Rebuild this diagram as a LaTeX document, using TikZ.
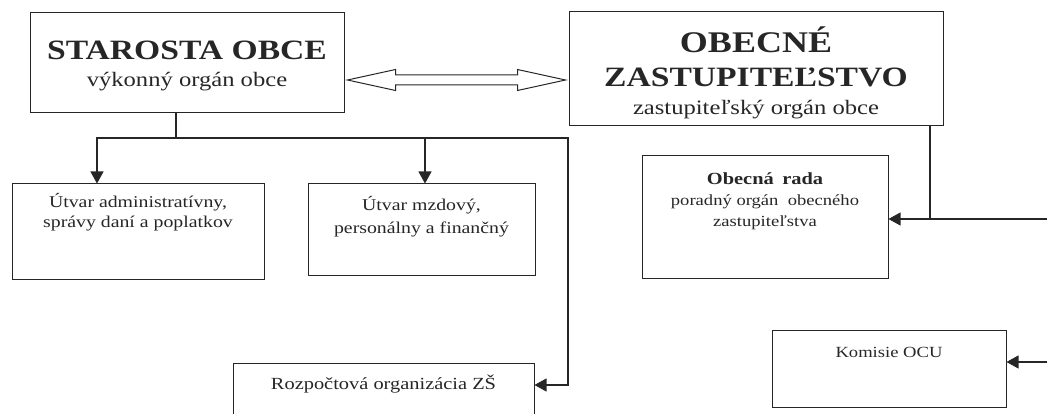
\documentclass[tikz,border=0pt]{standalone}
\usepackage{fontspec}
\setmainfont{Liberation Serif}[FakeStretch=1.2]
\usetikzlibrary{arrows.meta,calc}

\tikzset{
  unit/.style={draw=black!85, line width=1pt, inner sep=0pt},
  caption/.style={anchor=north, align=center, inner sep=0pt, text=black!85},
  link/.style={draw=black!85, line width=1.1pt},
  arr/.style={link, -{Triangle[length=12pt,width=13pt]}},
}

\begin{document}
\begin{tikzpicture}[x=1pt,y=-1pt]
  \useasboundingbox (0,0) rectangle (1047,414);
  \clip (0,0) rectangle (1047,414);

  % boxes
  \node[unit, minimum width=314pt, minimum height=100pt] (starosta) at (187,63) {};
  \node[unit, minimum width=374pt, minimum height=114pt] (obecne) at (756,69) {};
  \node[unit, minimum width=252pt, minimum height=95pt] (admin) at (138,231.5) {};
  \node[unit, minimum width=227pt, minimum height=91pt] (mzdovy) at (421.5,229.5) {};
  \node[unit, minimum width=301pt, minimum height=70pt] (rozpocet) at (383.5,398) {};
  \node[unit, minimum width=246pt, minimum height=122pt] (rada) at (765,217) {};
  \node[unit, minimum width=234pt, minimum height=77pt] (komisie) at (889,368.5) {};

  % texts
  \node[caption, font=\fontsize{20.5}{27}\selectfont] at ([yshift=-28.5pt]starosta.north)
    {{\fontsize{28}{27}\selectfont\bfseries STAROSTA OBCE}\\výkonný orgán obce};
  \node[caption, font=\fontsize{20.5}{34}\selectfont] at ([yshift=-15pt]obecne.north)
    {{\fontsize{30}{34}\selectfont\bfseries OBECNÉ}\\{\fontsize{28}{34}\selectfont\bfseries ZASTUPITEĽSTVO}\\[-6pt]zastupiteľský orgán obce};
  \node[caption, font=\fontsize{16.5}{20}\selectfont] at ([yshift=-10pt]admin.north)
    {Útvar administratívny,\\správy daní a poplatkov};
  \node[caption, font=\fontsize{16.5}{23}\selectfont] at ([yshift=-13pt]mzdovy.north)
    {Útvar mzdový,\\personálny a finančný};
  \node[caption, font=\fontsize{17}{20}\selectfont] at ([yshift=-12.5pt]rozpocet.north)
    {Rozpočtová organizácia ZŠ};
  \node[caption, font=\fontsize{15.5}{21}\selectfont] at ([yshift=-17pt]rada.north)
    {{\fontsize{17}{21}\selectfont\bfseries Obecná\hspace{0.5em}rada}\\poradný orgán~ obecného\\zastupiteľstva};
  \node[caption, font=\fontsize{15.5}{20}\selectfont] at ([yshift=-18pt]komisie.north)
    {Komisie OCU};

  % double arrow between the heads
  \coordinate (dbl) at (456,80);
  \coordinate (dblL) at ($(starosta.east |- dbl)+(3,0)$);
  \coordinate (dblR) at ($(obecne.west |- dbl)+(-3,0)$);
  \draw[link, line width=1pt] (dblL) -- ++(48,-10.5) -- ++(0,5.5) -- ($(dblR)+(-48,-5)$)
    -- ++(0,-5.5) -- (dblR) -- ++(-48,10.5) -- ++(0,-5.5) -- ($(dblL)+(48,5)$)
    -- ++(0,5.5) -- cycle;

  % connectors
  \coordinate (hub) at (176,138);
  \coordinate (zsbend) at (568,385);
  \draw[link] (starosta.south -| hub) -- (hub);
  \draw[arr] (hub) -| ([xshift=-41pt]admin.north);
  \draw[arr] (hub) -| ([xshift=3.5pt]mzdovy.north);
  \draw[arr] (hub) -| (zsbend) -- (zsbend -| rozpocet.east);

  \coordinate (radabend) at (930,219);
  \coordinate (rightedge) at (1047,0);
  \coordinate (komin) at (1047,362);
  \draw[link] (obecne.south -| radabend) -- (radabend);
  \draw[arr] (rightedge |- radabend) -- (radabend -| rada.east);
  \draw[arr] (komin) -- (komin -| komisie.east);
\end{tikzpicture}
\end{document}
